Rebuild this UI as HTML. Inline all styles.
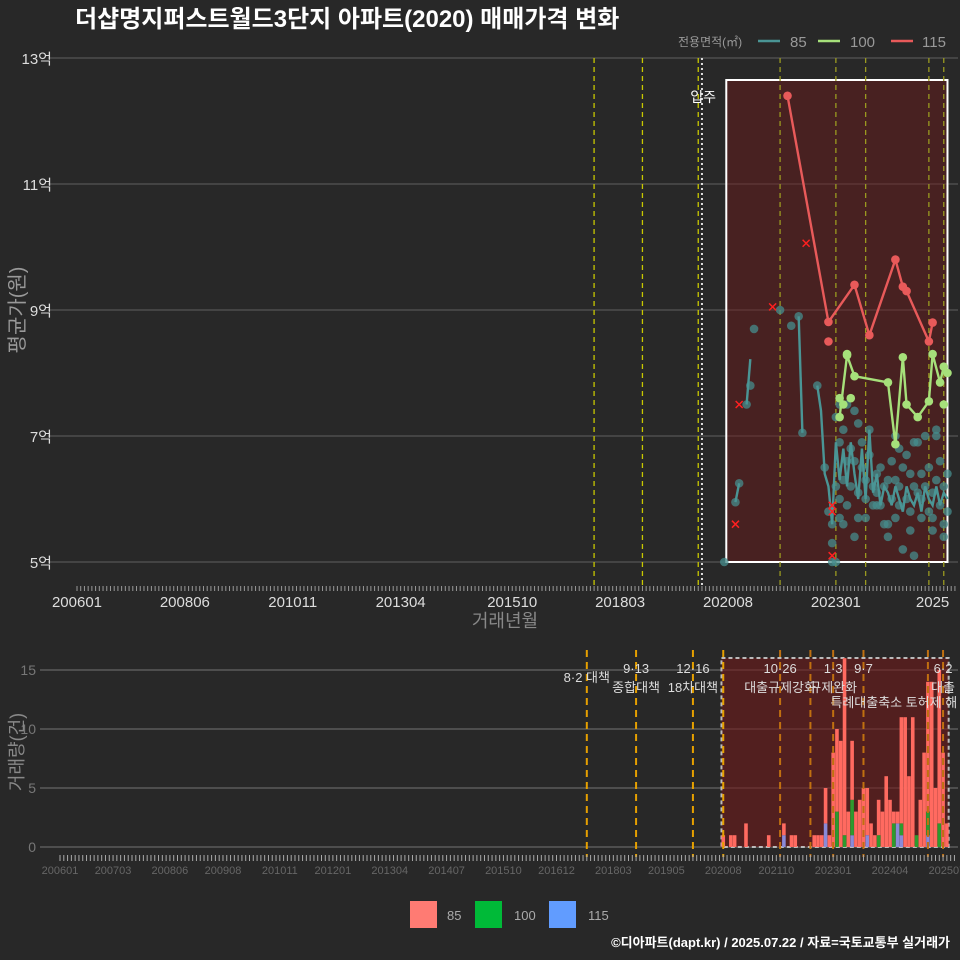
<!DOCTYPE html>
<html><head><meta charset="utf-8">
<style>
html,body{margin:0;padding:0;background:#282828;}
svg{display:block;font-family:"Liberation Sans","Noto Sans CJK KR",sans-serif;}
</style></head>
<body>
<svg id="chart" width="960" height="960" viewBox="0 0 960 960" xmlns="http://www.w3.org/2000/svg">
<rect x="0" y="0" width="960" height="960" fill="#282828"/>
<text x="75" y="27" fill="#ffffff" font-size="24" font-weight="bold">더샵명지퍼스트월드3단지 아파트(2020) 매매가격 변화</text>
<g id="topPanel"></g>
<g id="botPanel"></g>
<text x="950" y="947" fill="#ffffff" font-size="13" font-weight="bold" text-anchor="end">©디아파트(dapt.kr) / 2025.07.22 / 자료=국토교통부 실거래가</text>
</svg>
<script>
// ---- data ----
const priceTicks = [5, 7, 9, 11, 13];
const xTickLabels = ["200601","200806","201011","201304","201510","201803","202008","202301","2025"];
const xTickMonths = [0, 29, 58, 87, 117, 146, 175, 204, 230];
const line85M = [177,178];
const line85V = [5.95,6.25];
const line85bM = [180,181];
const line85bV = [7.5,8.22];
const line85cM = [194,195];
const line85cV = [8.9,7.05];
const line85dM = [199,200,201,202,203,204,205,206,207,208,209,210,211,212,213,214,215,216,217,218,219,220,221,222,223,224,225,226,227,228,229,230,231,232,233,234];
const line85dV = [7.8,7.4,6.4,6.2,5.6,6.9,6.3,6.8,6.2,6.9,6.4,6.0,6.8,6.0,7.1,6.1,6.4,5.9,6.2,6.1,5.9,6.2,6.0,5.8,6.2,6.0,5.9,6.1,5.8,6.2,6.0,5.9,6.2,5.9,6.1,6.0];
const pts85M = [174,177,178,180,181,182,189,192,194,195,199,201,202,203,203,203,204,204,204,205,205,205,206,206,207,207,207,208,208,209,209,210,210,211,211,212,212,213,213,214,214,215,215,216,216,217,217,218,218,219,219,220,220,221,221,222,222,223,223,224,224,225,225,226,226,227,227,228,228,229,229,230,230,231,231,232,232,233,233,234,234,206,209,212,215,218,221,224,227,230,233,205,210,220,225,231];
const pts85V = [5.0,5.95,6.25,7.5,7.8,8.7,9.0,8.75,8.9,7.05,7.8,6.5,5.8,5.0,5.3,5.6,5.0,6.2,7.3,6.9,5.7,7.5,6.3,7.1,6.6,5.9,7.5,6.8,6.2,6.6,7.4,6.1,5.7,6.5,6.9,6.0,6.3,7.1,6.7,6.2,5.9,6.4,6.1,5.9,6.5,6.2,5.6,6.3,5.4,6.0,6.6,5.7,6.3,6.2,5.9,6.5,5.2,6.0,6.7,6.4,5.8,6.2,5.1,6.9,6.1,5.7,6.4,6.2,7.0,5.8,6.5,6.1,5.5,7.0,6.3,5.9,6.6,6.2,5.6,6.4,5.8,5.6,5.4,5.7,5.9,5.6,6.8,5.5,6.0,5.7,5.4,6.0,7.2,7.0,6.9,7.1];
const line100M = [205,207,209,218,220,222,223,226,229,230,232,233];
const line100V = [7.3,8.28,7.95,7.85,6.87,8.25,7.5,7.3,7.55,8.3,7.85,8.1];
const pts100M = [205,206,207,208,233,234];
const pts100V = [7.6,7.5,8.3,7.6,7.5,8.0];
const line115M = [191,202,209,213,220,222,223,229,230];
const line115V = [12.4,8.81,9.4,8.6,9.8,9.37,9.3,8.5,8.8];
const pts115M = [202];
const pts115V = [8.5];
const crossM = [177,178,187,196,203,203,203];
const crossV = [5.6,7.5,9.05,10.06,5.9,5.8,5.1];
const topLines = [139,152,167,189,204,212,229,233];
const occMonth = 168;
// volume per month starting 202008 (month index 175)
const volStart = 175;
const vol115 = [0,0,0,0,0,0,0,0,0,0,0,0,0,0,0,0,1,0,0,0,0,0,0,0,0,0,0,2,0,0,0,0,0,0,1,0,0,0,1,0,0,0,0,0,0,0,2,1,0,0,0,0,0,0,1,0,0,0,0,0];
const vol100 = [0,0,0,0,0,0,0,0,0,0,0,0,0,0,0,0,0,0,0,0,0,0,0,0,0,0,0,0,0,0,3,0,1,0,3,0,0,0,0,0,0,1,0,0,0,2,0,1,0,0,0,1,0,0,2,0,0,2,0,0];
const vol85 = [1,0,1,1,0,0,2,0,0,0,0,0,1,0,0,0,1,0,1,1,0,0,0,0,1,1,1,3,1,8,7,9,15,3,5,3,4,5,4,2,1,3,3,6,4,1,1,9,11,6,11,0,4,8,11,14,5,13,8,2];
const volTicks = [0,5,10,15];
const botLabels = ["200601","200703","200806","200908","201011","201201","201304","201407","201510","201612","201803","201905","202008","202110","202301","202404","202507"];
const botLabelMonths = [0,14,29,43,58,72,87,102,117,131,146,160,175,189,204,219,234];
const botLines = [139,152,167,175,190,198,204,212,229,233];
const annTop = ["8·2 대책","9·13","12·16","10·26","1·3","9·7","6·2"];
const annTopM = [139,152,167,190,204,212,233];
const annSub = ["종합대책","18차대책","대출규제강화","규제완화","특례대출축소 토허제 해","대출"];
const annSubM = [152,167,190,204,220,233];

// ---- scales ----
const NS="http://www.w3.org/2000/svg";
const xT = m => 77 + m*3.72;
const yT = v => 562 - (v-5)*63;
const xB = m => 60 + m*3.79;
const yB = v => 847 - v*11.8;
function mk(parent, tag, attrs, text){
  const e=document.createElementNS(NS,tag);
  for(const k in attrs) e.setAttribute(k,attrs[k]);
  if(text!==undefined) e.textContent=text;
  parent.appendChild(e); return e;
}
const topG=document.getElementById('topPanel'), botG=document.getElementById('botPanel');

priceTicks.forEach(v=>{
  const g=mk(topG,'line',{x1:48,x2:958,y1:yT(v),y2:yT(v),stroke:'#555','stroke-width':1.2});
  
  
  const t=mk(topG,'text',{x:52,y:yT(v)+6,fill:'#dddddd','font-size':15,'text-anchor':'end'},v+'억');
  
  
});
const hb=mk(topG,'rect',{x:xT(174)+2,y:80,width:xT(234)-xT(174)-2,height:482,fill:'rgba(110,25,25,0.45)',stroke:'#ffffff','stroke-width':2});


topLines.forEach((m,i)=>{
  const l=mk(topG,'line',{x1:xT(m),x2:xT(m),y1:58,y2:588,stroke:i<3?'#c8c800':'#9a9a20','stroke-width':1.3,'stroke-dasharray':'5,4'});
  
  
});
const occ=mk(topG,'line',{x1:xT(occMonth),x2:xT(occMonth),y1:58,y2:588,stroke:'#dddddd','stroke-width':2,'stroke-dasharray':'2,3'});


const occT=mk(topG,'text',{x:xT(occMonth)+14,y:102,fill:'#ffffff','font-size':14,'text-anchor':'end'},'입주');


for(let m=0;m<=236;m++){
  const t=mk(topG,'line',{x1:xT(m),x2:xT(m),y1:586,y2:591,stroke:'#999','stroke-width':1});
  
  
}
xTickLabels.forEach((s,i)=>{
  const t=mk(topG,'text',{x:xT(xTickMonths[i]),y:607,fill:'#dddddd','font-size':15,'text-anchor':'middle'},s);
  
  
});
const xt=mk(topG,'text',{x:505,y:627,fill:'#888','font-size':18,'text-anchor':'middle'},'거래년월');


const yt=mk(topG,'text',{x:0,y:0,fill:'#999','font-size':20,'text-anchor':'middle',transform:'translate(24,310) rotate(-90)'},'평균가(원)');



pts85M.forEach((m,i)=>{
  const c=mk(topG,'circle',{cx:xT(m),cy:yT(pts85V[i]),r:4.3,fill:'rgba(70,140,140,0.75)'});
  
  
});
function poly(ms,vs,color,name){
  const p=mk(topG,'polyline',{points:ms.map((m,i)=>xT(m)+','+yT(vs[i])).join(' '),fill:'none',stroke:color,'stroke-width':2.4});
  
  
}
poly(line85M,line85V,'#4a9595','line-85');
poly(line85bM,line85bV,'#4a9595','line-85');
poly(line85cM,line85cV,'#4a9595','line-85');
poly(line85dM,line85dV,'#4a9595','line-85');
poly(line100M,line100V,'#a6e07a','line-100');
line100M.concat(pts100M).forEach((m,i)=>{
  const v=i<line100M.length?line100V[i]:pts100V[i-line100M.length];
  const c=mk(topG,'circle',{cx:xT(m),cy:yT(v),r:4.3,fill:'#a6e07a'});
  
  
});
poly(line115M,line115V,'#e85a5a','line-115');
line115M.concat(pts115M).forEach((m,i)=>{
  const v=i<line115M.length?line115V[i]:pts115V[i-line115M.length];
  const c=mk(topG,'circle',{cx:xT(m),cy:yT(v),r:4.3,fill:'#e85a5a'});
  
  
});
crossM.forEach((m,i)=>{
  const x=xT(m),y=yT(crossV[i]);
  const p=mk(topG,'path',{d:`M${x-3.5},${y-3.5}L${x+3.5},${y+3.5}M${x-3.5},${y+3.5}L${x+3.5},${y-3.5}`,stroke:'#ff2020','stroke-width':1.5});
  
  
});
const lg=mk(topG,'g',{});


const lt=mk(lg,'text',{x:678,y:46,fill:'#999','font-size':12},'전용면적(㎡)');


[['#4a9595',758,'85',790],['#a6e07a',818,'100',850],['#e85a5a',891,'115',922]].forEach(a=>{
  const l=mk(lg,'line',{x1:a[1],x2:a[1]+22,y1:41,y2:41,stroke:a[0],'stroke-width':2.5});
  
  
  const t=mk(lg,'text',{x:a[3],y:47,fill:'#999','font-size':15},a[2]);
  
  
});

// ---- bottom panel ----
volTicks.forEach(v=>{
  const g=mk(botG,'line',{x1:40,x2:958,y1:yB(v),y2:yB(v),stroke:'#666','stroke-width':1.2});
  
  
  const t=mk(botG,'text',{x:36,y:yB(v)+5,fill:'#777','font-size':14,'text-anchor':'end'},v);
  
  
});
const bb=mk(botG,'rect',{x:xB(174)+2,y:658,width:xB(235)-xB(174)-4,height:189,fill:'rgba(110,25,25,0.6)',stroke:'#bbbbbb','stroke-width':2,'stroke-dasharray':'4,3'});


vol85.forEach((v,k)=>{
  const m=volStart+k, x=xB(m)-1.8, w=3.6;
  let base=0;
  [[vol115[k],'#8a8ad8','bar-115'],[vol100[k],'#2e9a2e','bar-100'],[v,'#ff6a60','bar-85']].forEach(s=>{
    if(s[0]>0){
      const r=mk(botG,'rect',{x:x,y:yB(base+s[0]),width:w,height:yB(base)-yB(base+s[0]),fill:s[1]});
      
      
      base+=s[0];
    }
  });
});
botLines.forEach((m,i)=>{
  const l=mk(botG,'line',{x1:xB(m),x2:xB(m),y1:650,y2:857,stroke:i<4?'#e6a000':'#c07010','stroke-width':2,'stroke-dasharray':'7,5'});
  
  
});
annTop.forEach((s,i)=>{
  const t=mk(botG,'text',{x:xB(annTopM[i]),y:i==0?682:673,fill:'#dddddd','font-size':13,'text-anchor':'middle'},s);
  
  
});
annSub.forEach((s,i)=>{
  const t=mk(botG,'text',{x:xB(annSubM[i]),y:i==4?707:692,fill:'#dddddd','font-size':13,'text-anchor':'middle'},s);
  
  
});
for(let m=0;m<=236;m++){
  const t=mk(botG,'line',{x1:xB(m),x2:xB(m),y1:855,y2:861,stroke:'#aaa','stroke-width':1});
  
  
}
botLabels.forEach((s,i)=>{
  const t=mk(botG,'text',{x:xB(botLabelMonths[i]),y:874,fill:'#666','font-size':11,'text-anchor':'middle'},s);
  
  
});
const yt2=mk(botG,'text',{x:0,y:0,fill:'#888','font-size':18,'text-anchor':'middle',transform:'translate(23,752) rotate(-90)'},'거래량(건)');


[['#ff7b73',410,'85',447],['#00ba38',475,'100',514],['#619cff',549,'115',588]].forEach(a=>{
  const r=mk(botG,'rect',{x:a[1],y:901,width:27,height:27,fill:a[0]});
  
  
  const t=mk(botG,'text',{x:a[3],y:920,fill:'#aaa','font-size':13},a[2]);
  
  
});
</script>
</body></html>
